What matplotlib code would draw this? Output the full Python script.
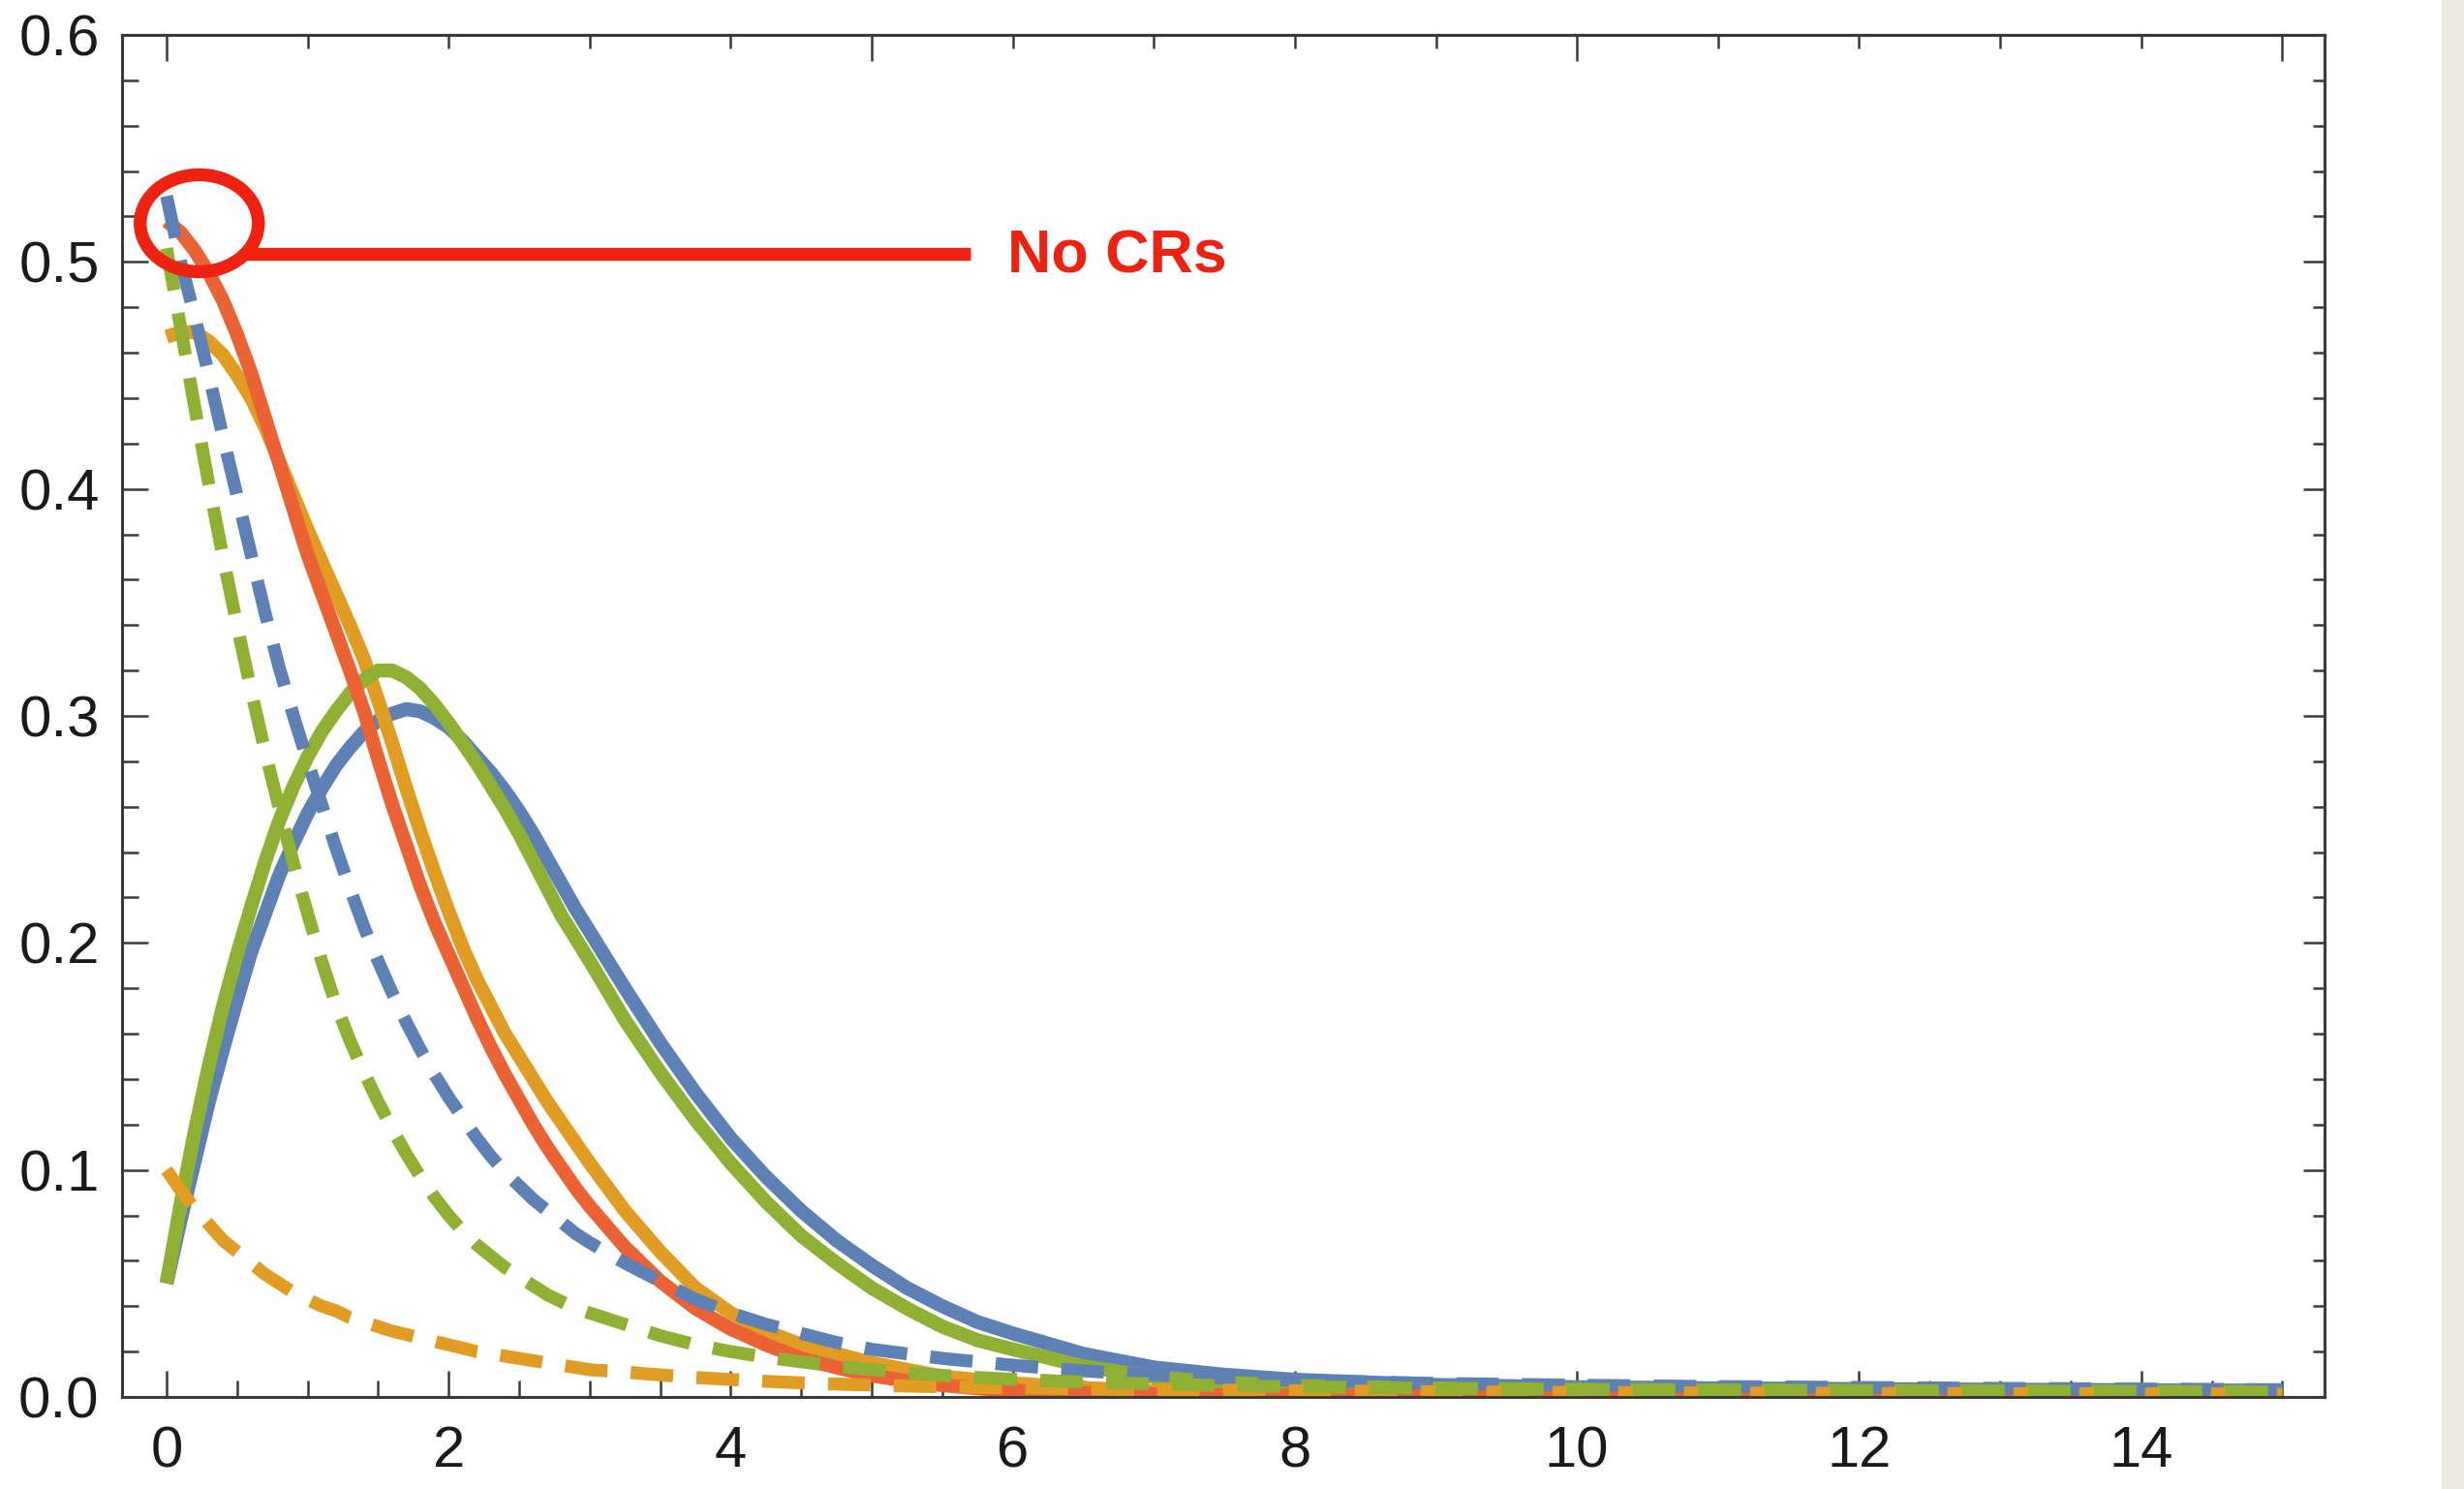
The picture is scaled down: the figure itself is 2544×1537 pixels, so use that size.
import matplotlib
matplotlib.use('Agg')
import matplotlib.pyplot as plt
from matplotlib.patches import Ellipse, Rectangle
from matplotlib.ticker import MultipleLocator

plt.rcParams['font.family'] = ['Liberation Sans', 'DejaVu Sans']

# sample positions along the x axis
x_vals = [0, 0.1, 0.2, 0.3, 0.4, 0.5, 0.6, 0.7, 0.8, 0.9,
          1.0, 1.1, 1.2, 1.3, 1.4, 1.5, 1.6, 1.7, 1.8, 1.9,
          2.0, 2.1, 2.2, 2.3, 2.4, 2.5, 2.6, 2.7, 2.8, 2.9, 3.0,
          3.25, 3.5, 3.75, 4.0, 4.25, 4.5, 4.75, 5.0, 5.25, 5.5, 5.75, 6.0,
          6.5, 7.0, 7.5, 8.0,
          9, 10, 11, 12, 13, 14, 15]

# solid curves
blue_solid = [0.050, 0.078, 0.104, 0.130, 0.153, 0.175, 0.196, 0.213, 0.230, 0.244,
              0.257, 0.268, 0.278, 0.286, 0.293, 0.298, 0.301, 0.303, 0.302, 0.299,
              0.295, 0.289, 0.282, 0.275, 0.267, 0.258, 0.248, 0.237, 0.226, 0.215, 0.205,
              0.180, 0.156, 0.134, 0.114, 0.097, 0.082, 0.069, 0.058, 0.048, 0.040, 0.033, 0.028,
              0.019, 0.013, 0.0098, 0.0076,
              0.0053, 0.0043, 0.0038, 0.0035, 0.0032, 0.0030, 0.0028]
orange_solid = [0.467, 0.469, 0.469, 0.465, 0.459, 0.450, 0.440, 0.427, 0.412, 0.397,
                0.382, 0.368, 0.354, 0.340, 0.325, 0.307, 0.288, 0.268, 0.249, 0.231,
                0.214, 0.198, 0.184, 0.172, 0.160, 0.150, 0.140, 0.130, 0.121, 0.112, 0.103,
                0.082, 0.064, 0.048, 0.037, 0.029, 0.023, 0.019, 0.015, 0.012, 0.009, 0.0075, 0.006,
                0.004, 0.0025, 0.0017, 0.0012,
                0.0006, 0.0003, 0.0002, 0.0001, 0.0001, 0.0001, 0.0001]
green_solid = [0.050, 0.085, 0.117, 0.146, 0.172, 0.195, 0.216, 0.236, 0.254, 0.269,
               0.282, 0.293, 0.302, 0.310, 0.316, 0.320, 0.320, 0.317, 0.312, 0.305,
               0.297, 0.288, 0.279, 0.269, 0.259, 0.248, 0.236, 0.224, 0.212, 0.202, 0.192,
               0.166, 0.143, 0.122, 0.103, 0.086, 0.071, 0.059, 0.048, 0.039, 0.031, 0.025, 0.021,
               0.0135, 0.0088, 0.0063, 0.0049,
               0.0037, 0.0032, 0.0029, 0.0027, 0.0025, 0.0023, 0.0022]
red_solid = [0.518, 0.513, 0.505, 0.495, 0.483, 0.468, 0.451, 0.431, 0.411, 0.391,
             0.371, 0.354, 0.337, 0.320, 0.302, 0.281, 0.261, 0.243, 0.225, 0.209,
             0.195, 0.181, 0.167, 0.154, 0.142, 0.131, 0.120, 0.110, 0.101, 0.092, 0.084,
             0.066, 0.051, 0.039, 0.030, 0.023, 0.017, 0.013, 0.0095, 0.007, 0.0052, 0.0038, 0.0028,
             0.0018, 0.0012, 0.0008, 0.0005,
             0.0003, 0.0002, 0.0001, 0.0001, 0.0, 0.0, 0.0]

# dashed curves
blue_dashed = [0.529, 0.500, 0.476, 0.450, 0.423, 0.397, 0.371, 0.345, 0.321, 0.300,
               0.280, 0.261, 0.242, 0.224, 0.207, 0.192, 0.178, 0.165, 0.153, 0.142,
               0.132, 0.123, 0.114, 0.106, 0.099, 0.093, 0.087, 0.082, 0.077, 0.072, 0.068,
               0.059, 0.051, 0.043, 0.037, 0.032, 0.028, 0.024, 0.021, 0.019, 0.017, 0.0155, 0.014,
               0.0115, 0.0097, 0.0083, 0.0073,
               0.006, 0.0052, 0.0046, 0.0042, 0.0038, 0.0035, 0.0032]
orange_dashed = [0.100, 0.091, 0.083, 0.076, 0.069, 0.064, 0.059, 0.054, 0.050, 0.046,
                 0.043, 0.040, 0.038, 0.035, 0.033, 0.031, 0.029, 0.0275, 0.026, 0.0245,
                 0.023, 0.0215, 0.020, 0.019, 0.018, 0.017, 0.016, 0.015, 0.014, 0.013, 0.012,
                 0.011, 0.0097, 0.0086, 0.0077, 0.0069, 0.0062, 0.0057, 0.0052, 0.0048, 0.0045, 0.0042, 0.004,
                 0.0036, 0.0032, 0.003, 0.0027,
                 0.0023, 0.002, 0.0018, 0.0016, 0.0015, 0.0014, 0.0013]
green_dashed = [0.506, 0.471, 0.436, 0.402, 0.370, 0.340, 0.311, 0.284, 0.259, 0.235,
                0.213, 0.192, 0.173, 0.157, 0.143, 0.130, 0.118, 0.107, 0.097, 0.088,
                0.080, 0.073, 0.067, 0.062, 0.057, 0.053, 0.049, 0.045, 0.042, 0.039, 0.037,
                0.032, 0.027, 0.023, 0.020, 0.0175, 0.0155, 0.0135, 0.012, 0.0107, 0.0095, 0.0086, 0.0078,
                0.0066, 0.0057, 0.005, 0.0045,
                0.0038, 0.0034, 0.0031, 0.0028, 0.0026, 0.0024, 0.0022]

x_ticks = [0, 2, 4, 6, 8, 10, 12, 14]
y_ticks = [0.0, 0.1, 0.2, 0.3, 0.4, 0.5, 0.6]
label_text = 'No CRs'

BLUE = '#5E81B5'
ORANGE = '#E19C24'
GREEN = '#8FB032'
RED = '#EB6235'
MARK = '#EE2211'
AXC = '#3a3a3a'

fig = plt.figure(figsize=(12.72, 7.685), dpi=200)
fig.add_artist(Rectangle((0.9914, 0), 0.0086, 1, transform=fig.transFigure,
                         color='#ECEAE5', zorder=-5))
ax = fig.add_axes([0.0495, 0.0618, 0.8939, 0.9148])

lw_s = 5.2
lw_d = 4.8
for ys, c in [(blue_solid, BLUE), (orange_solid, ORANGE), (green_solid, GREEN), (red_solid, RED)]:
    ax.plot(x_vals, ys, color=c, lw=lw_s, solid_capstyle='butt', solid_joinstyle='round')
for ys, c in [(blue_dashed, BLUE), (orange_dashed, ORANGE), (green_dashed, GREEN)]:
    ax.plot(x_vals, ys, color=c, lw=lw_d, dashes=(3.3, 1.8), dash_capstyle='butt',
            dash_joinstyle='round')

ax.set_xlim(-0.316, 15.3)
ax.set_ylim(0, 0.6)

ax.set_xticks(x_ticks)
ax.set_xticklabels([str(t) for t in x_ticks])
ax.set_yticks(y_ticks)
ax.set_yticklabels([f'{t:.1f}' for t in y_ticks])
ax.xaxis.set_minor_locator(MultipleLocator(0.5))
ax.yaxis.set_minor_locator(MultipleLocator(0.02))
ax.tick_params(which='both', direction='in', top=False, right=False, color=AXC, width=0.9,
               labelsize=21.5, labelcolor='#1a1a1a')
ax.tick_params(which='major', length=9.6)
ax.tick_params(which='minor', length=6.0)
ax.tick_params(axis='x', pad=10.5)
ax.tick_params(axis='y', pad=8.4)
for s in ax.spines.values():
    s.set_color(AXC)
    s.set_linewidth(1.1)

# frame ticks on top and right
top = ax.secondary_xaxis('top')
top.xaxis.set_major_locator(MultipleLocator(5))
top.xaxis.set_minor_locator(MultipleLocator(1))
top.tick_params(which='both', direction='in', labeltop=False, color=AXC, width=0.9)
top.tick_params(which='major', length=9.6)
top.tick_params(which='minor', length=5.0)
top.spines['top'].set_color(AXC)
top.spines['top'].set_linewidth(1.1)

right = ax.secondary_yaxis('right')
right.yaxis.set_major_locator(MultipleLocator(0.1))
right.yaxis.set_minor_locator(MultipleLocator(0.02))
right.tick_params(which='both', direction='in', labelright=False, color=AXC, width=0.9)
right.tick_params(which='major', length=7.8)
right.tick_params(which='minor', length=4.2)
right.spines['right'].set_color(AXC)
right.spines['right'].set_linewidth(1.1)

# "No CRs" callout
ax.add_patch(Ellipse((0.232, 0.517), 0.838, 0.0427, fill=False, ec=MARK, lw=4.8,
                     zorder=10, clip_on=False))
ax.plot([0.56, 5.70], [0.5036, 0.5036], color=MARK, lw=4.8, solid_capstyle='butt', zorder=10)
ax.text(5.96, 0.4952, label_text, color=MARK, fontsize=22.6, fontweight='bold',
        ha='left', va='baseline', zorder=11)

fig.savefig('out.png', dpi=200)
